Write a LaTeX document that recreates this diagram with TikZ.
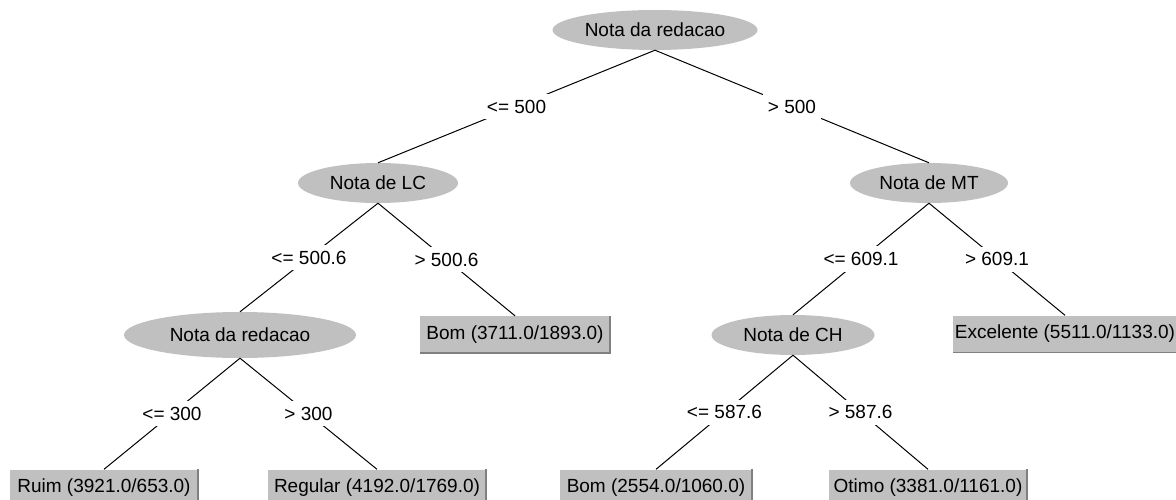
\documentclass[tikz,border=0pt]{standalone}
\usepackage{fontspec}
\setmainfont{Liberation Sans}
\usetikzlibrary{shapes.geometric}
\definecolor{nodegray}{RGB}{192,192,192}
\definecolor{rimgray}{RGB}{128,128,128}

\begin{document}
\begin{tikzpicture}[x=1pt,y=-1pt,
  every node/.style={font=\fontsize{19}{22}\selectfont, text=black},
  split/.style={ellipse, fill=nodegray, inner sep=0pt, minimum height=40pt},
  leaf/.style={rectangle, fill=nodegray, inner sep=0pt, minimum height=37pt},
  cond/.style={fill=white, inner xsep=5pt, inner ysep=6pt, midway},
  branch/.style={line width=1pt, black},
  rim/.style={line width=1.5pt, rimgray}
]
\useasboundingbox (0,0) rectangle (1176,500);

% decision nodes
\node[split, minimum width=205pt] (root) at (655,30) {Nota da redacao};
\node[split, minimum width=160pt] (lc) at (378,183) {Nota de LC};
\node[split, minimum width=158pt] (mt) at (929,183) {Nota de MT};
\node[split, minimum width=232pt, minimum height=46pt] (red) at (240,335) {Nota da redacao};
\node[split, minimum width=163pt] (ch) at (793,335) {Nota de CH};

% leaves
\node[leaf, minimum width=190pt] (bomA) at (515,334.5) {Bom (3711.0/1893.0)};
\node[leaf, minimum width=224pt] (exc) at (1065,334) {Excelente (5511.0/1133.0)};
\node[leaf, minimum width=188pt] (ruim) at (104,488) {Ruim (3921.0/653.0)};
\node[leaf, minimum width=218pt] (reg) at (377,488) {Regular (4192.0/1769.0)};
\node[leaf, minimum width=192pt] (bomB) at (656,488) {Bom (2554.0/1060.0)};
\node[leaf, minimum width=198pt] (otimo) at (928,488) {Otimo (3381.0/1161.0)};

% raised edges of the leaf boxes
\foreach \n in {bomA,exc,ruim,reg,bomB,otimo}
  \draw[rim] (\n.north east) -- (\n.south east) -- (\n.south west);

% branches with their split conditions
\draw[branch] (root.south) -- node[cond] {<= 500} (lc.north);
\draw[branch] (root.south) -- node[cond] {> 500} (mt.north);
\draw[branch] (lc.south) -- node[cond] {<= 500.6} (red.north);
\draw[branch] (lc.south) -- node[cond] {> 500.6} (bomA.north);
\draw[branch] (mt.south) -- node[cond] {<= 609.1} (ch.north);
\draw[branch] (mt.south) -- node[cond] {> 609.1} (exc.north);
\draw[branch] (red.south) -- node[cond] {<= 300} (ruim.north);
\draw[branch] (red.south) -- node[cond] {> 300} (reg.north);
\draw[branch] (ch.south) -- node[cond] {<= 587.6} (bomB.north);
\draw[branch] (ch.south) -- node[cond] {> 587.6} (otimo.north);
\end{tikzpicture}
\end{document}
